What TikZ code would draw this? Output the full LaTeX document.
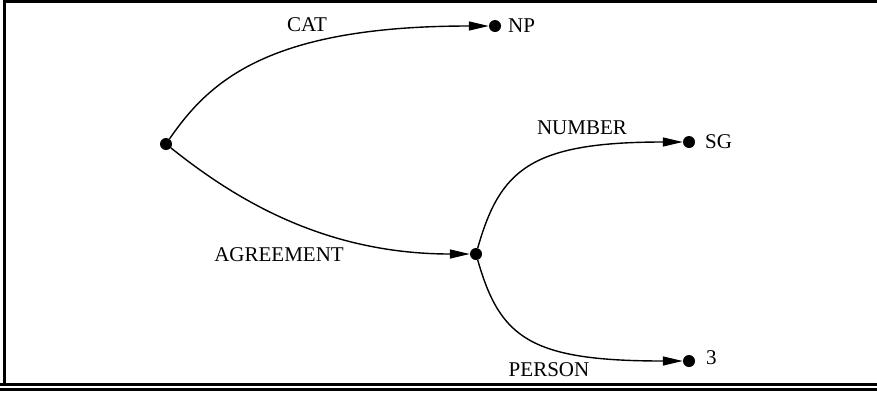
\documentclass[tikz,border=0pt]{standalone}
\usepackage{fontspec}
\setmainfont{Liberation Serif}
\usetikzlibrary{arrows.meta}
\begin{document}
\begin{tikzpicture}[x=1pt,y=-1pt,
  dot/.style={circle,fill=black,inner sep=0pt,minimum size=12pt},
  lbl/.style={inner sep=0pt,font=\fontsize{21}{25}\selectfont},
  arc/.style={line width=1.4pt,-{Triangle[length=20pt,width=9pt]}},
  frameline/.style={line width=2.7pt}]
\useasboundingbox (0,0) rectangle (877,400);
% frame
\draw[frameline] (4.7,384.7) -- (4.7,1.4) -- (880,1.4);
\draw[frameline] (0,384.7) -- (880,384.7);
\draw[frameline] (0,389.2) -- (880,389.2);
% nodes
\node[dot] (root) at (166,144) {};
\node[dot] (np) at (495,26) {};
\node[dot] (mid) at (476,254) {};
\node[dot] (sg) at (689,142) {};
\node[dot] (three) at (689,361) {};
% value labels
\node[lbl,anchor=west] (npl) at (508,26) {NP};
\node[lbl,anchor=west] (sgl) at (705,142) {SG};
\node[lbl,anchor=west] (threel) at (706,357.5) {3};
% edge labels
\node[lbl] (cat) at (307,25) {CAT};
\node[lbl] (agr) at (279,255) {AGREEMENT};
\node[lbl] (num) at (582,128) {NUMBER};
\node[lbl] (per) at (549,370) {PERSON};
% connectors
\draw[arc] (root) .. controls +(44,-64) and +(-225,0) .. (np);
\draw[arc] (root) .. controls +(64,51) and +(-156,0) .. (mid);
\draw[arc] (mid) .. controls +(24,-84) and +(-159,0) .. (sg);
\draw[arc] (mid) .. controls +(24,84) and +(-159,0) .. (three);
\end{tikzpicture}
\end{document}
